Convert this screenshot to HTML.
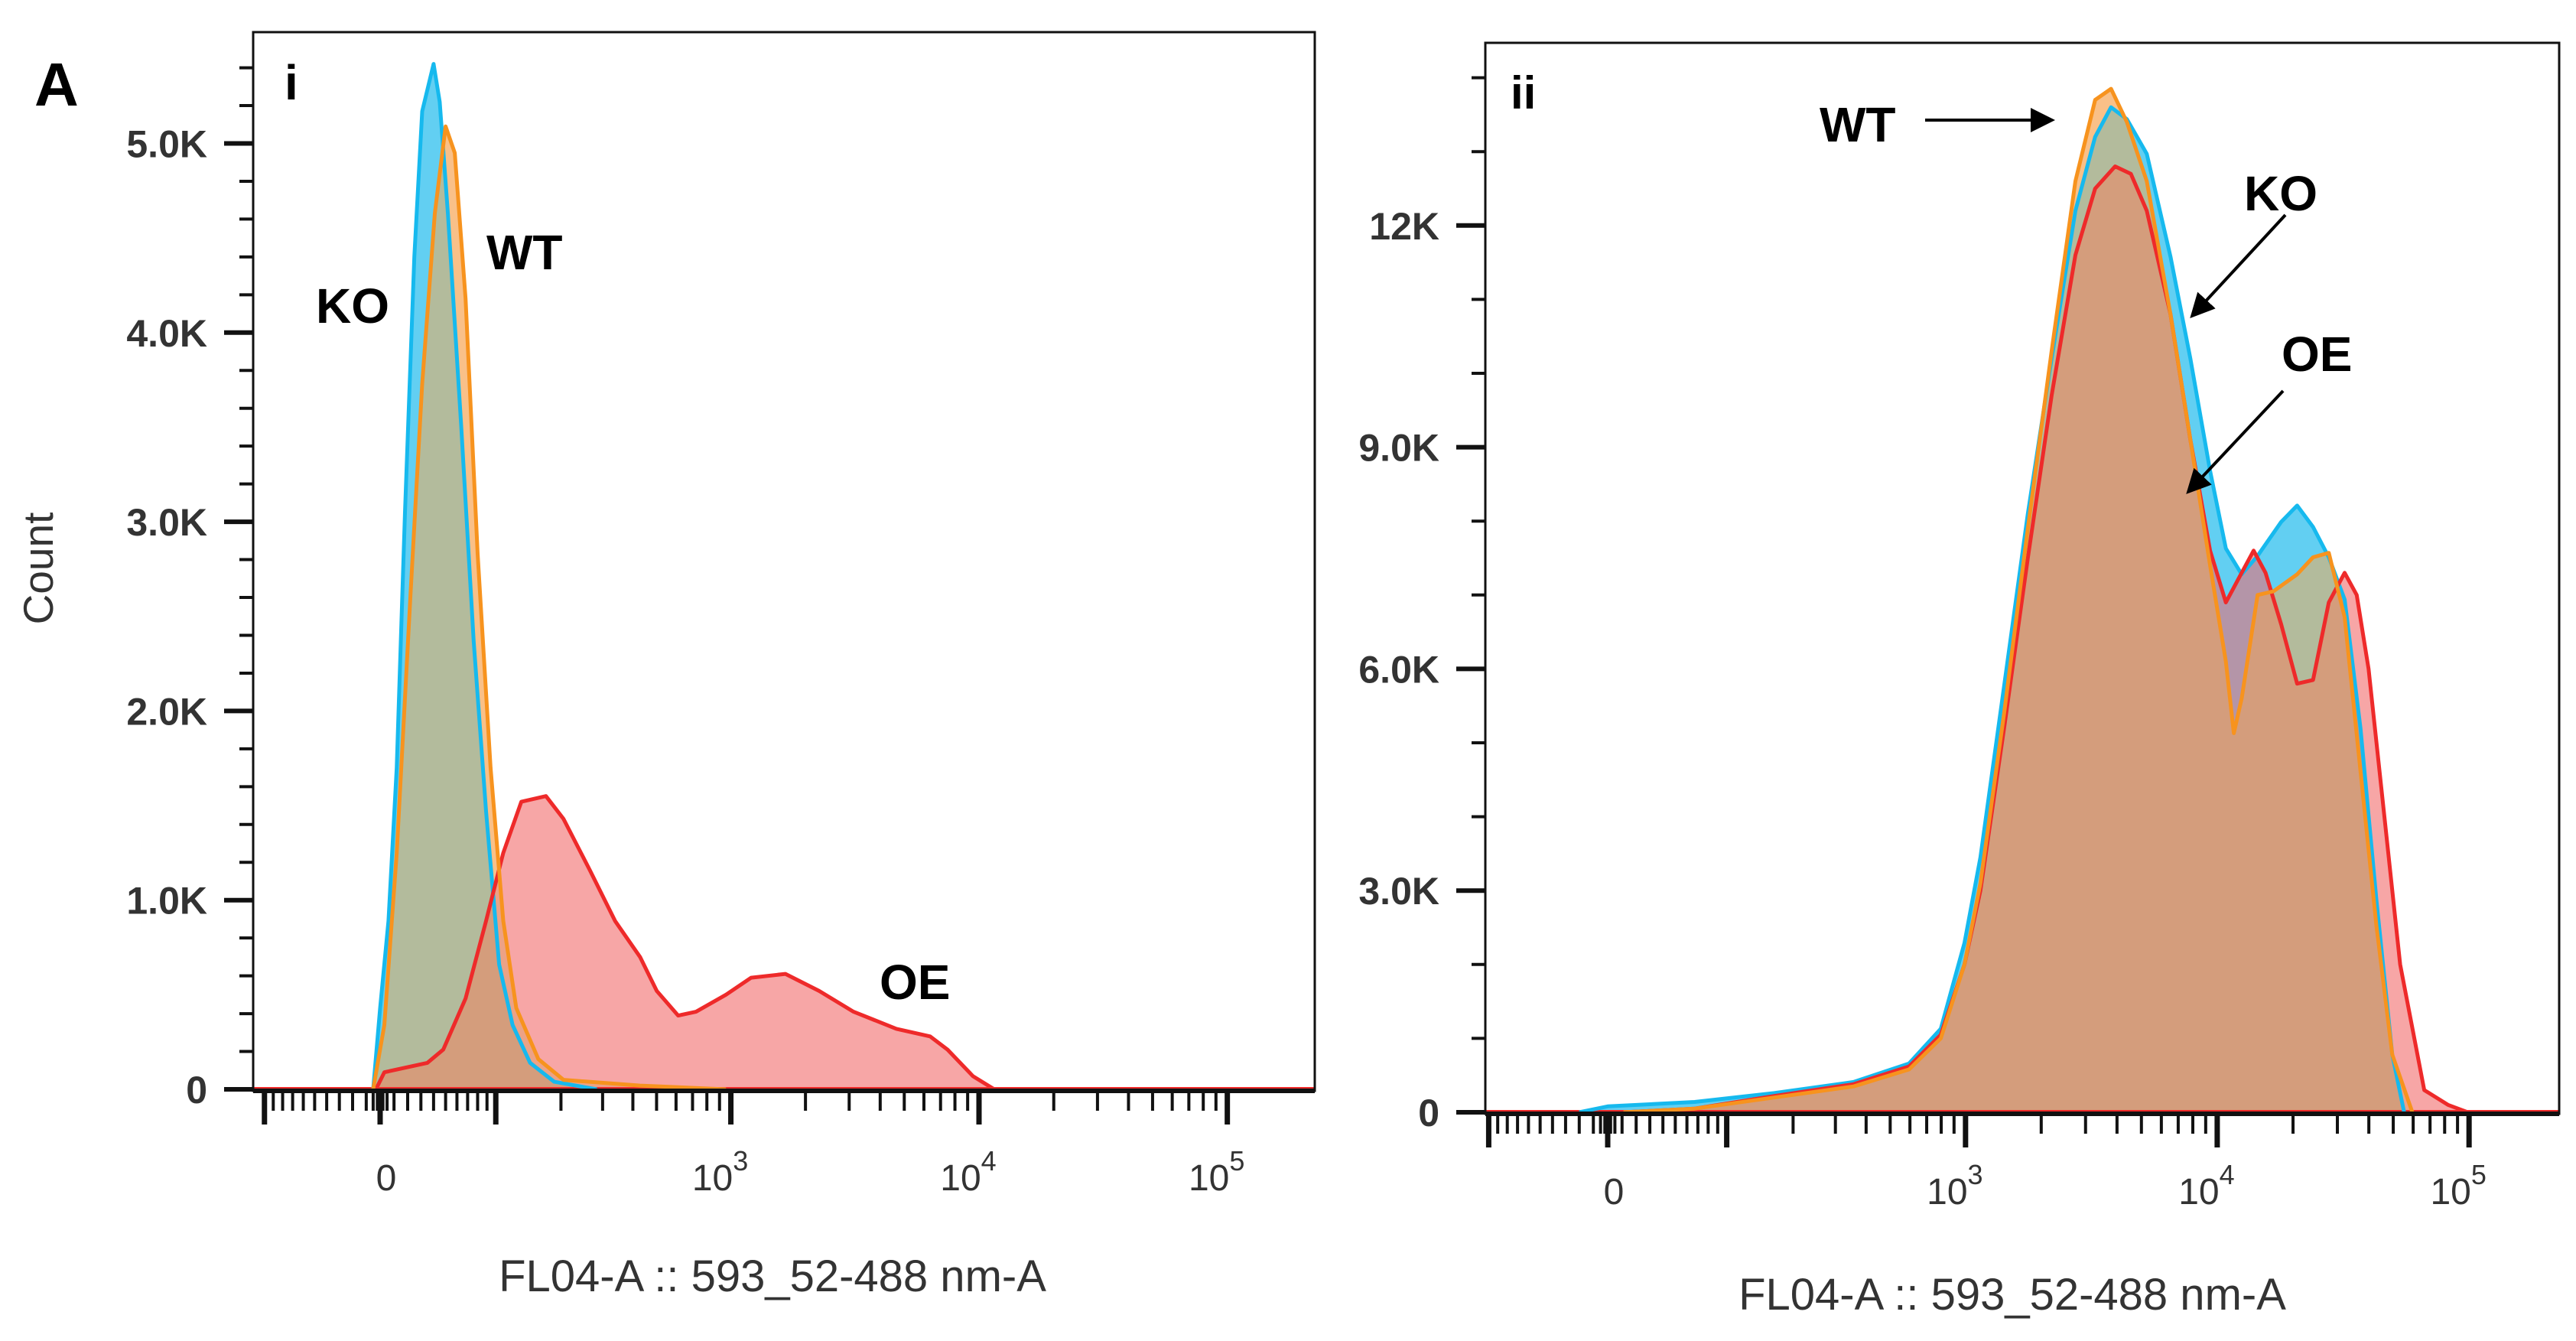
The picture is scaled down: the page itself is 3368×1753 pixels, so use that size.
<!DOCTYPE html>
<html><head><meta charset="utf-8">
<style>
html,body{margin:0;padding:0;background:#fff;}
svg{display:block;}
text{font-family:"Liberation Sans",Arial,sans-serif;}
</style></head>
<body>
<svg id="fig" width="3368" height="1753" viewBox="0 0 3368 1753" xmlns="http://www.w3.org/2000/svg">
<rect width="3368" height="1753" fill="#fff"/>
<text x="45" y="138" font-size="80" font-weight="bold" fill="#000">A</text>
<text x="50" y="743" font-size="55" fill="#333" transform="rotate(-90 50 743)" text-anchor="middle" dominant-baseline="central">Count</text>
</svg>
<script>
// ---------- Panel i data ----------
const koX1 = [-5,0,6,12,18,25,31,40,45,52,64,76,89,104,121,146,187,284];
const koY1 = [0,430,890,1700,3050,4400,5170,5420,5220,4630,3500,2370,1470,660,340,140,40,0];
const wtX1 = [-5,3,12,22,31,41,50,58,68,80,94,109,126,159,205,428,956];
const wtY1 = [0,340,1250,2600,3730,4630,5090,4950,4180,2830,1700,890,430,160,50,20,0];
const oeX1 = [-3,3,35,48,68,89,109,133,172,205,265,338,428,501,612,723,956,1208,1660,2270,3125,4650,6350,7470,9450,11520];
const oeY1 = [0,90,140,210,480,890,1250,1520,1550,1430,1160,890,700,520,390,410,500,590,610,520,410,320,280,210,70,0];
const yTicks1 = [0,1000,2000,3000,4000,5000];
const yTickLabels1 = ["0","1.0K","2.0K","3.0K","4.0K","5.0K"];
// ---------- Panel ii data ----------
const koX2 = [-20,0,67,166,356,595,797,990,1146,1424,1769,2200,2734,3276,3787,4378,5250,6522,7822,9372,10823,12510,14470,17960,20770,24010,27740,32070,37070,42880,49560,55240];
const koY2 = [0,80,140,260,410,660,1130,2290,3450,5770,8100,10200,12200,13200,13600,13440,12970,11580,10200,8680,7630,7280,7530,7990,8210,7920,7510,6940,5190,2870,780,0];
const wtX2 = [11,67,166,356,595,797,990,1146,1424,1769,2200,2734,3276,3787,4378,5250,6522,7822,9372,10823,11640,12510,14470,16720,20770,24010,27740,32070,37070,42880,49560,59510];
const wtY2 = [0,50,200,350,580,1000,2000,3100,5400,7900,10300,12600,13700,13850,13400,12600,10800,9100,7400,6100,5130,5600,7000,7050,7280,7510,7570,6700,4610,2520,780,0];
const oeX2 = [11,67,166,356,595,797,990,1146,1424,1769,2200,2734,3276,3930,4540,5250,6522,7822,9372,10823,12510,13950,15560,17960,20770,24010,27740,32070,35800,39900,46130,53260,66380,82460,98870];
const oeY2 = [0,50,220,380,620,1050,2000,3000,5200,7500,9700,11600,12500,12800,12700,12200,10800,9100,7600,6900,7300,7600,7300,6600,5800,5850,6900,7300,7000,6000,4000,2000,300,100,0];
const yTicks2 = [0,3000,6000,9000,12000];
const yTickLabels2 = ["0","3.0K","6.0K","9.0K","12K"];
const xMajor = [-100,0,100,1000,10000,100000];
const xLabelVals = [0,1000,10000,100000];
const xLabelExp = ["","3","4","5"];

const NS="http://www.w3.org/2000/svg";
const svg=document.getElementById('fig');
function mk(tag,attrs,parent){const e=document.createElementNS(NS,tag);for(const k in attrs)e.setAttribute(k,attrs[k]);(parent||svg).appendChild(e);return e;}

function panel(cfg){
  const {L,T,R,B,x0,k,w,y0,py,id}=cfg;
  const xs=v=>x0+k*Math.asinh(v/w);
  const ys=c=>y0-c*py;
  const g=mk('g',{});
  
  
  const defs=mk('defs',{},g);
  function area(X,Y){let d='M'+xs(X[0]).toFixed(1)+','+ys(0).toFixed(1);for(let i=0;i<X.length;i++)d+='L'+xs(X[i]).toFixed(1)+','+ys(Y[i]).toFixed(1);d+='L'+xs(X[X.length-1]).toFixed(1)+','+ys(0).toFixed(1)+'Z';return d;}
  function line(X,Y){let d='';for(let i=0;i<X.length;i++)d+=(i?'L':'M')+xs(X[i]).toFixed(1)+','+ys(Y[i]).toFixed(1);return d;}
  const dKO=area(cfg.koX,cfg.koY),dWT=area(cfg.wtX,cfg.wtY),dOE=area(cfg.oeX,cfg.oeY);
  const cKO=mk('clipPath',{id:'cko'+id},defs);mk('path',{d:dKO},cKO);
  const cWT=mk('clipPath',{id:'cwt'+id},defs);mk('path',{d:dWT},cWT);
  const cPl=mk('clipPath',{id:'cpl'+id},defs);mk('rect',{x:L,y:T,width:R-L,height:B-T},cPl);
  const plot=mk('g',{'clip-path':'url(#cpl'+id+')'},g);
  let e;
  e=mk('path',{d:dKO,fill:'#62cff2'},plot);
  e=mk('path',{d:dWT,fill:'#f9c088'},plot);
  e=mk('path',{d:dOE,fill:'#f7a6a6'},plot);
  e=mk('path',{d:dWT,fill:'#b3bb9c','clip-path':'url(#cko'+id+')'},plot);
  e=mk('path',{d:dOE,fill:'#b495a8','clip-path':'url(#cko'+id+')'},plot);
  e=mk('path',{d:dOE,fill:'#eca286','clip-path':'url(#cwt'+id+')'},plot);
  const gg=mk('g',{'clip-path':'url(#cko'+id+')'},plot);
  e=mk('path',{d:dOE,fill:'#d49d7c','clip-path':'url(#cwt'+id+')'},gg);
  e=mk('line',{x1:L,x2:R,y1:ys(0)-1,y2:ys(0)-1,stroke:'#ee2a2a','stroke-width':4},plot);
  e=mk('path',{d:line(cfg.koX,cfg.koY),fill:'none',stroke:'#16b9ee','stroke-width':5,'stroke-linejoin':'round'},plot);
  e=mk('path',{d:line(cfg.oeX,cfg.oeY),fill:'none',stroke:'#ee2a2a','stroke-width':5,'stroke-linejoin':'round'},plot);
  e=mk('path',{d:line(cfg.wtX,cfg.wtY),fill:'none',stroke:'#f7931e','stroke-width':5,'stroke-linejoin':'round'},plot);
  e=mk('rect',{x:L,y:T,width:R-L,height:B-T,fill:'none',stroke:'#111','stroke-width':3},g);
  e=mk('line',{x1:L,x2:R,y1:B,y2:B,stroke:'#111','stroke-width':6},g);
  const yMax=(y0-T)/py;
  for(let c=0;c<=yMax;c+=cfg.yMinor){
    const y=ys(c);
    e=mk('line',{x1:L-18,x2:L,y1:y,y2:y,stroke:'#111','stroke-width':4},g);
  }
  cfg.yTicks.forEach((c,i)=>{
    const y=ys(c);
    e=mk('line',{x1:L-38,x2:L,y1:y,y2:y,stroke:'#111','stroke-width':6},g);
    e=mk('text',{x:L-60,y:y+18,'font-size':50,'font-weight':'bold',fill:'#333','text-anchor':'end'},g);e.textContent=cfg.yTickLabels[i];
  });
  const minorVals=[];
  for(let m=1;m<=9;m++){minorVals.push(-10*m);minorVals.push(10*m);}
  for(let p=2;p<=4;p++)for(let m=2;m<=9;m++)minorVals.push(m*Math.pow(10,p));
  minorVals.push(-5,-2,2,5);
  minorVals.forEach(v=>{const x=xs(v);if(x<L||x>R)return;
    e=mk('line',{x1:x,x2:x,y1:B,y2:B+26,stroke:'#111','stroke-width':4},g);});
  xMajor.forEach(v=>{const x=xs(v);if(x<L||x>R)return;
    e=mk('line',{x1:x,x2:x,y1:B,y2:B+44,stroke:'#111','stroke-width':7},g);});
  xLabelVals.forEach((v,i)=>{const x=xs(v);
    const t=mk('text',{x:x+(i?-14:8),y:B+cfg.xLabDy,'font-size':48,fill:'#333','text-anchor':'middle'},g);
    
    
    if(i===0){t.textContent='0';}else{
      const a=mk('tspan',{},t);a.textContent='10';
      const b=mk('tspan',{dy:-26,'font-size':36},t);b.textContent=xLabelExp[i];
    }
  });
  e=mk('text',{x:cfg.titleX,y:cfg.titleY,'font-size':58,fill:'#333','text-anchor':'middle'},g);e.textContent='FL04-A :: 593_52-488 nm-A';
  e=mk('text',{x:cfg.romanX,y:cfg.romanY,'font-size':cfg.romanSize,'font-weight':'bold',fill:'#000'},g);e.textContent=cfg.roman;
  return g;
}
panel({id:'i',L:331,T:42,R:1719,B:1426,x0:497,k:141,w:77.5,y0:1424,py:0.2473,
  koX:koX1,koY:koY1,wtX:wtX1,wtY:wtY1,oeX:oeX1,oeY:oeY1,yTicks:yTicks1,yTickLabels:yTickLabels1,yMinor:200,
  xLabDy:130,titleX:1010,titleY:1688,roman:'i',romanX:372,romanY:130,romanSize:64});
panel({id:'ii',L:1942,T:56,R:3346,B:1456,x0:2102,k:143,w:76,y0:1454,py:0.0966,
  koX:koX2,koY:koY2,wtX:wtX2,wtY:wtY2,oeX:oeX2,oeY:oeY2,yTicks:yTicks2,yTickLabels:yTickLabels2,yMinor:1000,
  xLabDy:118,titleX:2631,titleY:1712,roman:'ii',romanX:1975,romanY:142,romanSize:60});

function lab(t,x,y,name){const e=mk('text',{x:x,y:y,'font-size':64,'font-weight':'bold',fill:'#000'});e.textContent=t;}
lab('KO',413,422,'ko-label-i');
lab('WT',636,352,'wt-label-i');
lab('OE',1150,1306,'oe-label-i');
lab('WT',2379,185,'wt-label-ii');
lab('KO',2934,275,'ko-label-ii');
lab('OE',2983,485,'oe-label-ii');
const defs=mk('defs',{});
const mrk=mk('marker',{id:'arr',markerWidth:8,markerHeight:8,refX:7,refY:4,orient:'auto',markerUnits:'strokeWidth'},defs);
mk('path',{d:'M0,0 L8,4 L0,8 Z',fill:'#000'},mrk);
function arrow(x1,y1,x2,y2,name){const e=mk('line',{x1:x1,y1:y1,x2:x2,y2:y2,stroke:'#000','stroke-width':4,'marker-end':'url(#arr)'});}
arrow(2517,157,2683,157,'wt-arrow');
arrow(2988,281,2866,413,'ko-arrow');
arrow(2985,511,2861,643,'oe-arrow');
</script>
</body></html>
